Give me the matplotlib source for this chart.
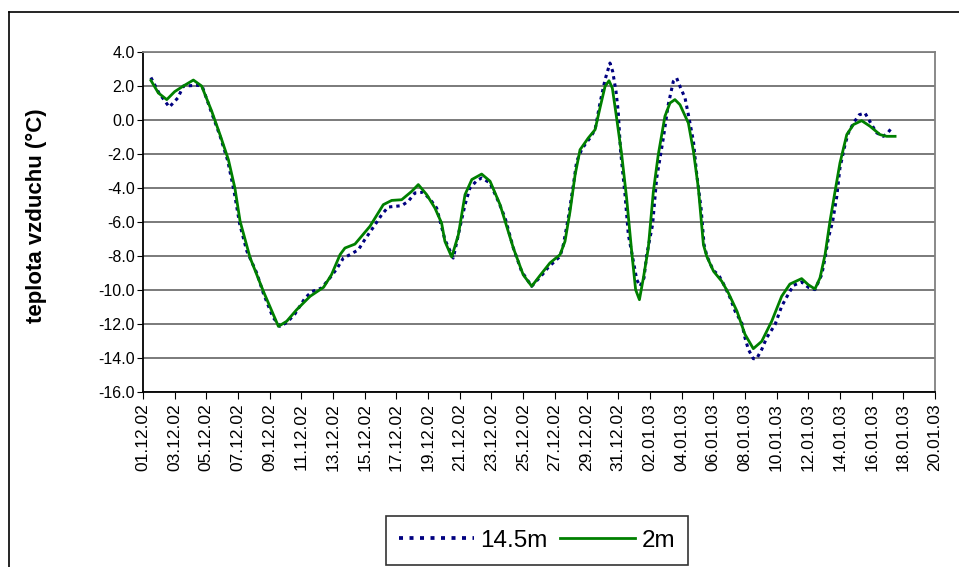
import pandas as pd
import matplotlib
matplotlib.use("Agg")
import matplotlib.pyplot as plt
import matplotlib.dates as mdates
from matplotlib.lines import Line2D

plt.rcParams["font.family"] = ["Liberation Sans", "DejaVu Sans"]

start = pd.Timestamp("2002-12-01")

# days after 01.12.02 and air temperature, 14.5 m
days_145 = [0.5, 1.0, 1.66, 2.2, 2.55, 3.5, 3.75, 4.3, 4.85, 5.35, 5.75, 6.1, 6.55, 7.18, 7.6,
            8.2, 8.65, 9.1, 9.6, 10.23, 10.65, 11.28, 11.8, 12.23, 12.65, 13.07, 13.6, 14.0,
            14.65, 15.07, 15.48, 16.33, 16.75, 17.17, 17.7, 18.22, 18.54, 19.06, 19.59, 20.0,
            20.33, 20.64, 21.07, 21.38, 21.9, 22.43, 22.86, 23.38, 23.9, 24.54, 25.3, 25.58,
            26.33, 26.54, 26.85, 27.17, 27.38, 27.69, 27.9, 28.22, 28.54, 28.85, 29.17, 29.48,
            29.65, 29.86, 30.0, 30.15, 30.43, 30.64, 30.92, 31.17, 31.38, 31.63, 31.8, 32.17,
            32.43, 32.64, 32.85, 33.16, 33.48, 33.69, 33.9, 34.22, 34.43, 34.75, 34.96, 35.23,
            35.42, 35.6, 36.0, 36.33, 36.6, 37.07, 37.38, 37.8, 38.0, 38.22, 38.53, 38.74,
            39.06, 39.38, 39.9, 40.32, 40.64, 41.06, 41.58, 42.0, 42.42, 42.85, 43.06, 43.27,
            43.54, 43.8, 44.0, 44.32, 44.53, 44.85, 45.22, 45.58, 46.0, 46.32, 46.74, 47.06,
            47.33]
temp_145 = [2.5, 1.6, 0.76, 1.3, 2.0, 2.04, 1.95, 0.5, -0.9, -2.4, -4.2, -6.1, -7.7, -9.0, -10.2,
            -11.6, -12.14, -11.9, -11.4, -10.47, -10.1, -9.88, -9.29, -8.76, -8.12, -7.92, -7.63,
            -7.04, -6.16, -5.57, -5.12, -5.04, -4.78, -4.29, -4.25, -4.78, -5.18, -7.04, -8.12,
            -6.35, -4.98, -4.0, -3.57, -3.41, -3.7, -4.78, -5.76, -7.53, -8.9, -9.78, -9.0, -8.67,
            -8.02, -7.33, -5.76, -3.8, -2.43, -1.75, -1.45, -1.06, -0.57, 1.0, 2.37, 3.35,
            2.86, 1.69, 0.51, -1.84, -4.39, -6.75, -8.12, -9.39, -9.78, -9.29, -7.92, -6.16,
            -3.41, -2.24, -1.06, 0.9, 2.27, 2.47, 1.98, 1.29, 0.31, -1.25, -3.22, -5.18,
            -7.33, -8.0, -8.85, -9.1, -9.55, -10.47, -11.25, -11.94, -12.8, -13.5, -14.04, -14.04,
            -13.5, -12.8, -12.04, -10.96, -10.41, -9.73, -9.53, -9.84, -9.98, -9.1, -8.12, -6.94,
            -5.96, -4.49, -2.82, -1.45, -0.76, -0.18, 0.31, 0.41, -0.27, -0.76, -0.96, -0.71,
            -0.37]

# days after 01.12.02 and air temperature, 2 m
days_2 = [0.5, 0.97, 1.5, 2.0, 2.55, 3.18, 3.7, 4.34, 4.86, 5.39, 5.8, 6.13, 6.76, 7.6, 8.55,
          9.07, 9.7, 10.55, 11.4, 11.9, 12.44, 12.75, 13.38, 14.33, 15.17, 15.7, 16.33, 16.96,
          17.38, 17.91, 18.43, 18.85, 19.06, 19.49, 19.91, 20.33, 20.76, 21.38, 21.91, 22.54,
          23.38, 24.0, 24.54, 25.06, 25.69, 26.33, 26.64, 26.96, 27.28, 27.59, 28.11, 28.54,
          28.85, 29.17, 29.42, 29.63, 29.9, 30.22, 30.53, 30.85, 31.1, 31.34, 31.59, 31.9,
          32.22, 32.53, 32.95, 33.27, 33.58, 33.9, 34.43, 34.75, 35.06, 35.38, 35.59, 36.02,
          36.54, 36.96, 37.5, 38.0, 38.53, 39.06, 39.69, 40.32, 40.84, 41.58, 42.0, 42.42,
          42.74, 43.06, 43.37, 43.69, 44.0, 44.43, 44.85, 45.37, 45.9, 46.53, 46.95, 47.48]
temp_2 = [2.33, 1.59, 1.2, 1.67, 2.0, 2.35, 2.0, 0.51, -0.86, -2.33, -4.0, -5.96, -8.1, -10.08,
          -12.14, -11.84, -11.16, -10.37, -9.84, -9.1, -7.92, -7.53, -7.3, -6.25, -4.98, -4.73,
          -4.69, -4.2, -3.8, -4.39, -5.18, -6.06, -7.14, -8.06, -6.75, -4.39, -3.5, -3.18, -3.6,
          -4.98, -7.53, -9.1, -9.78, -9.15, -8.41, -7.92, -7.14, -5.37, -3.22, -1.75, -1.06,
          -0.57, 0.71, 1.98, 2.31, 1.88, 0.12, -2.04, -4.59, -7.73, -9.98, -10.57, -9.29, -7.53,
          -4.2, -2.04, 0.22, 1.0, 1.2, 0.9, -0.18, -1.84, -4.0, -7.33, -8.02, -8.9, -9.49,
          -10.18, -11.25, -12.6, -13.45, -13.02, -11.84, -10.37, -9.65, -9.33, -9.69, -9.94,
          -9.29, -7.92, -5.96, -4.2, -2.53, -0.86, -0.27, -0.04, -0.37, -0.86, -0.96, -0.96]

t145 = start + pd.to_timedelta(days_145, unit="D")
t2 = start + pd.to_timedelta(days_2, unit="D")

fig = plt.figure(figsize=(9.59, 5.67), dpi=100)
ax = fig.add_axes([143 / 959, 1 - 392 / 567, 792 / 959, 340 / 567])

ax.plot(t145, temp_145, color="#000080", lw=2.2, ls=(0, (1.1, 1.3)))
ax.plot(t2, temp_2, color="#008000", lw=2.0)

ax.set_ylim(-16, 4)
ax.set_yticks(range(-16, 5, 2))
ax.yaxis.set_major_formatter(matplotlib.ticker.FormatStrFormatter("%.1f"))
ax.set_xlim(start, pd.Timestamp("2003-01-20"))
ax.set_xticks(pd.date_range("2002-12-01", "2003-01-20", freq="2D"))
ax.xaxis.set_major_formatter(mdates.DateFormatter("%d.%m.%y"))
ax.tick_params(axis="x", rotation=90, direction="out", length=5, labelsize=12.5, pad=3)
ax.tick_params(axis="y", direction="out", length=4, labelsize=11.5, pad=2)
ax.grid(axis="y", color="#707070", lw=1.3)
ax.set_axisbelow(True)
for s in ["top", "right"]:
    ax.spines[s].set_color("#808080")
    ax.spines[s].set_linewidth(1.3)
for s in ["left", "bottom"]:
    ax.spines[s].set_color("black")
    ax.spines[s].set_linewidth(1.3)

ax.set_ylabel("teplota vzduchu (°C)", fontsize=16, fontweight="bold")
ax.yaxis.set_label_coords(-0.121, 0.52)

handles = [Line2D([], [], color="#000080", lw=2.7, ls=(0, (1.07, 1.73))),
           Line2D([], [], color="#008000", lw=2.0)]
leg = fig.legend(handles, ["14.5m", "2m"], loc="lower center",
                 bbox_to_anchor=(537 / 959, 2 / 567), ncol=2,
                 fancybox=False, edgecolor="#333333", framealpha=1, fontsize=17.5,
                 handlelength=3.1, handletextpad=0.25, columnspacing=0.5,
                 borderpad=0.55, borderaxespad=0)
leg.get_frame().set_linewidth(1.2)

# outer chart border
fig.add_artist(Line2D([9 / 959, 9 / 959], [0, 1 - 12 / 567], color="black", lw=1.2))
fig.add_artist(Line2D([9 / 959, 1], [1 - 12 / 567, 1 - 12 / 567], color="black", lw=1.2))

fig.savefig("out.png", dpi=100)
